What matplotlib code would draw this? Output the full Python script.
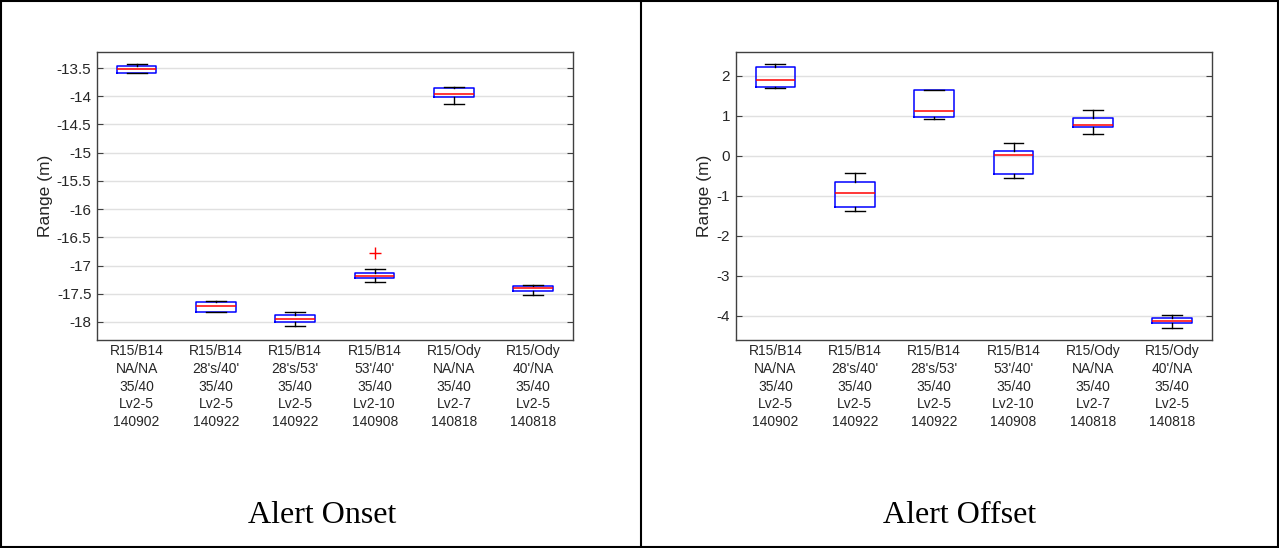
import matplotlib
matplotlib.use("Agg")
import matplotlib.pyplot as plt
from matplotlib.lines import Line2D

plt.rcParams['font.family'] = ['Liberation Sans', 'DejaVu Sans']

categories = [
    "R15/B14\nNA/NA\n35/40\nLv2-5\n140902",
    "R15/B14\n28's/40'\n35/40\nLv2-5\n140922",
    "R15/B14\n28's/53'\n35/40\nLv2-5\n140922",
    "R15/B14\n53'/40'\n35/40\nLv2-10\n140908",
    "R15/Ody\nNA/NA\n35/40\nLv2-7\n140818",
    "R15/Ody\n40'/NA\n35/40\nLv2-5\n140818",
]

# Alert onset box statistics (m)
onset_whislo = [-13.59, -17.82, -18.08, -17.30, -14.14, -17.53]
onset_q1 = [-13.58, -17.82, -18.01, -17.23, -14.01, -17.46]
onset_med = [-13.52, -17.71, -17.94, -17.18, -13.96, -17.40]
onset_q3 = [-13.47, -17.655, -17.88, -17.13, -13.86, -17.36]
onset_whishi = [-13.42, -17.63, -17.83, -17.06, -13.83, -17.34]
onset_fliers = [[], [], [], [-16.77], [], []]

# Alert offset box statistics (m)
offset_whislo = [1.69, -1.38, 0.93, -0.56, 0.54, -4.30]
offset_q1 = [1.73, -1.27, 0.98, -0.45, 0.73, -4.18]
offset_med = [1.89, -0.94, 1.12, 0.02, 0.78, -4.12]
offset_q3 = [2.22, -0.65, 1.64, 0.11, 0.95, -4.05]
offset_whishi = [2.30, -0.42, 1.64, 0.33, 1.14, -3.97]
offset_fliers = [[], [], [], [], [], []]

onset_ticks = [-18, -17.5, -17, -16.5, -16, -15.5, -15, -14.5, -14, -13.5]
onset_ticklabels = ["-18", "-17.5", "-17", "-16.5", "-16", "-15.5", "-15", "-14.5", "-14", "-13.5"]
offset_ticks = [-4, -3, -2, -1, 0, 1, 2]
offset_ticklabels = ["-4", "-3", "-2", "-1", "0", "1", "2"]


def build_stats(lo, q1, med, q3, hi, fl):
    return [dict(whislo=a, q1=b, med=c, q3=d, whishi=e, fliers=f)
            for a, b, c, d, e, f in zip(lo, q1, med, q3, hi, fl)]


def draw_panel(ax, stats, ticks, ticklabels, ylim):
    ax.bxp(stats, positions=range(1, len(stats) + 1), widths=0.5,
           showfliers=True, patch_artist=False,
           boxprops=dict(color='#0000ff', linewidth=1.1),
           medianprops=dict(color='#ff0000', linewidth=1.1),
           whiskerprops=dict(color='black', linewidth=1.0),
           capprops=dict(color='black', linewidth=1.0),
           capwidths=0.25,
           flierprops=dict(marker='+', markeredgecolor='#ff0000',
                           markersize=8, markeredgewidth=1.0, linestyle='none'))
    ax.set_xlim(0.5, len(stats) + 0.5)
    ax.set_ylim(*ylim)
    ax.set_yticks(ticks)
    ax.set_yticklabels(ticklabels)
    ax.set_xticks(range(1, len(stats) + 1))
    ax.set_xticklabels(categories, linespacing=1.34)
    ax.yaxis.grid(True, color='#e0e0e0', linewidth=1.0)
    ax.set_axisbelow(True)
    ax.tick_params(axis='y', direction='in', length=4, width=0.8,
                   colors='#404040', labelcolor='#262626', labelsize=11,
                   left=True, right=True, pad=4)
    ax.tick_params(axis='x', direction='in', length=0, colors='#404040',
                   labelcolor='#262626', labelsize=10, pad=3)
    for s in ax.spines.values():
        s.set_color('#404040')
        s.set_linewidth(1.0)
    ax.set_ylabel("Range (m)", fontsize=12.5, color='#262626', labelpad=3)


fig = plt.figure(figsize=(12.79, 5.48), dpi=100)

ax1 = fig.add_axes([0.0758, 0.3796, 0.3722, 0.526])
draw_panel(ax1, build_stats(onset_whislo, onset_q1, onset_med, onset_q3,
                            onset_whishi, onset_fliers),
           onset_ticks, onset_ticklabels, (-18.32, -13.21))

ax2 = fig.add_axes([0.5752, 0.3796, 0.3724, 0.526])
draw_panel(ax2, build_stats(offset_whislo, offset_q1, offset_med, offset_q3,
                            offset_whishi, offset_fliers),
           offset_ticks, offset_ticklabels, (-4.6, 2.6))

# Captions beneath each panel
fig.text(322 / 1279, 1 - 523 / 548, "Alert Onset", ha='center', va='baseline',
         fontsize=23, family=['Liberation Serif'])
fig.text(960 / 1279, 1 - 523 / 548, "Alert Offset", ha='center', va='baseline',
         fontsize=23, family=['Liberation Serif'])

# Outer frame and divider
W, H = 1279, 548
frame_kw = dict(color='black', linewidth=1.5, transform=fig.transFigure)
for xs, ys in [([1, 1], [0, H]), ([W - 1, W - 1], [0, H]),
               ([0, W], [1, 1]), ([0, W], [H - 1.5, H - 1.5]),
               ([641, 641], [0, H])]:
    fig.add_artist(Line2D([x / W for x in xs], [1 - y / H for y in ys], **frame_kw))

fig.savefig("out.png", dpi=100)
